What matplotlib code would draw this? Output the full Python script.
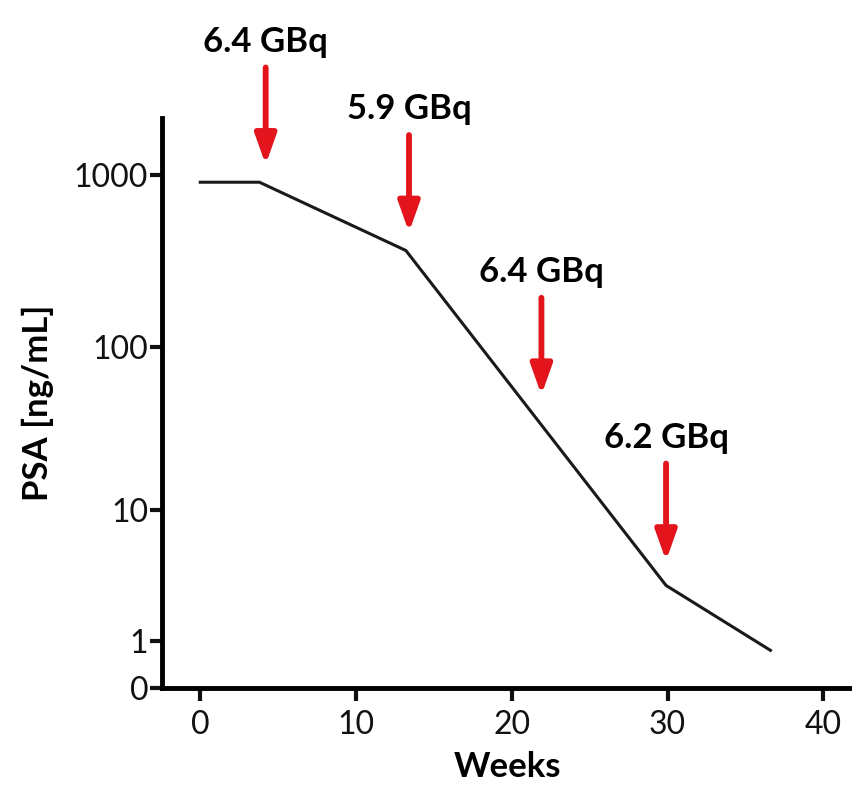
import numpy as np
import matplotlib
matplotlib.use("Agg")
from matplotlib import pyplot as plt

# PSA course
weeks = [0, 3.8, 13.2, 29.9, 36.6]
psa = [910, 910, 365, 2.65, 0.84]

# radioligand doses: week of cycle, label
dose_weeks = [4.2, 13.4, 21.9, 29.9]
dose_labels = ["6.4 GBq", "5.9 GBq", "6.4 GBq", "6.2 GBq"]
# where each arrow tip sits (PSA units on the y axis)
dose_tips = [1150, 466, 51, 4.1]

y_ticks = [0.43, 1, 10, 100, 1000]
y_ticklabels = ["0", "1", "10", "100", "1000"]
x_ticks = [0, 10, 20, 30, 40]

# the printed axis has uneven decades, so map log10 piecewise
knots_log = [-6, -0.37, 0, 1, 2, 3, 3.33, 8]
knots_pix = [688 + 5.63 * 130, 688, 640, 510, 347, 175, 118, 118 - 4.67 * 172]
knots_pos = [-p for p in knots_pix]


def fwd(v):
    v = np.clip(np.asarray(v, dtype=float), 1e-6, None)
    return np.interp(np.log10(v), knots_log, knots_pos)


def inv(p):
    return 10 ** np.interp(p, knots_pos, knots_log)


plt.rcParams['font.family'] = ['Lato', 'DejaVu Sans']

fig = plt.figure(figsize=(8.53, 7.90), dpi=100)
ax = fig.add_axes([0.19, 0.129, 0.81, 0.722])

ax.set_yscale('function', functions=(fwd, inv))
ax.plot(weeks, psa, color='#1a1a1a', lw=2.2, solid_joinstyle='miter')

for wk, lab, tip in zip(dose_weeks, dose_labels, dose_tips):
    ax.annotate("", xy=(wk, tip), xytext=(0, 70), textcoords='offset points',
                arrowprops=dict(arrowstyle='-|>,head_width=0.32,head_length=0.9',
                                mutation_scale=20, color='#e3141b', lw=4.2,
                                shrinkA=0, shrinkB=0),
                annotation_clip=False)
    ax.annotate(lab, xy=(wk, tip), xytext=(0, 77), textcoords='offset points',
                ha='center', va='bottom', fontsize=25, fontweight='bold',
                annotation_clip=False)

ax.set_xlim(-2.45, 41.9)
ax.set_ylim(0.43, 2150)
ax.set_xticks(x_ticks)
ax.set_yticks(y_ticks)
ax.set_yticklabels(y_ticklabels)
ax.minorticks_off()
ax.tick_params(labelsize=23, width=3, length=9, pad=3, colors='#111111')
ax.tick_params(axis='x', pad=7)
ax.tick_params(axis='y', pad=1)

for s in ['top', 'right']:
    ax.spines[s].set_visible(False)
for s in ['left', 'bottom']:
    ax.spines[s].set_linewidth(3.5)

ax.set_xlabel("Weeks", fontsize=25, fontweight='bold', labelpad=8)
ax.set_ylabel("PSA [ng/mL]", fontsize=25, fontweight='bold', labelpad=14)

fig.savefig("out.png", dpi=100)
